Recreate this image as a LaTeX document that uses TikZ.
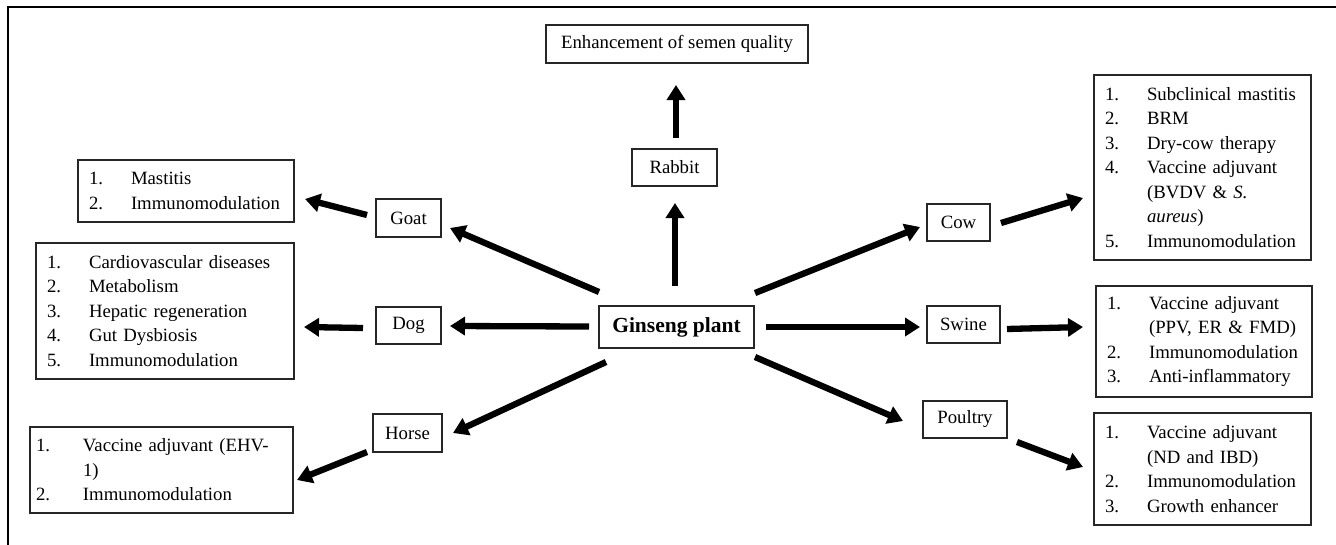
\documentclass[tikz,border=0pt]{standalone}
\usepackage{fontspec}
\setmainfont{Liberation Serif}
\usetikzlibrary{arrows.meta,calc}
\newcommand{\li}[2]{\makebox[42pt][l]{#1}\mbox{#2}}
\newcommand{\lc}[1]{\makebox[42pt][l]{}\mbox{#1}}
\begin{document}
\begin{tikzpicture}[x=1pt,y=-1pt,
  box/.style={draw=black!85,line width=1.3pt,inner sep=0pt,font=\fontsize{18.75}{24.5}\selectfont},
  listbox/.style={box,align=left,inner xsep=11pt,inner ysep=0pt},
  arr/.style={line width=6.3pt,-{Triangle[length=15pt,width=18pt]}}]
\useasboundingbox (0,0) rectangle (1336,544);
\draw[line width=1.5pt] (8,560) -- (8,7) -- (1350,7);
% centre and animals
\node[box,minimum width=155pt,minimum height=42pt,font=\fontsize{21.5}{24}\selectfont\bfseries] (ginseng) at (676.5,327) {Ginseng plant};
\node[box,minimum width=262pt,minimum height=38pt] (enh) at (677,44) {Enhancement of semen quality};
\node[box,minimum width=85pt,minimum height=37pt] (rabbit) at (674.5,167.5) {Rabbit};
\node[box,minimum width=65pt,minimum height=38pt] (goat) at (408.5,218) {Goat};
\node[box,minimum width=65pt,minimum height=37pt] (dog) at (408.5,325.5) {Dog};
\node[box,minimum width=69pt,minimum height=38pt] (horse) at (407.5,433) {Horse};
\node[box,minimum width=63pt,minimum height=37pt] (cow) at (958.5,222.5) {Cow};
\node[box,minimum width=73pt,minimum height=37pt] (swine) at (963.5,324.5) {Swine};
\node[box,minimum width=84pt,minimum height=37pt] (poultry) at (965,419.5) {Poultry};
% lists
\node[listbox,text width=194pt,minimum height=62pt] (goatlist) at (186,191)
  {\li{1.}{Mastitis}\\\li{2.}{Immunomodulation}};
\node[listbox,text width=236pt,minimum height=136pt] (doglist) at (165,311)
  {\li{1.}{Cardiovascular diseases}\\\li{2.}{Metabolism}\\\li{3.}{Hepatic regeneration}\\\li{4.}{Gut Dysbiosis}\\\li{5.}{Immunomodulation}};
\node[listbox,inner xsep=6pt,text width=251pt,minimum height=86pt] (horselist) at (161.5,470)
  {\makebox[47pt][l]{1.}\mbox{Vaccine adjuvant (EHV-}\\\makebox[47pt][l]{}\mbox{1)}\\\makebox[47pt][l]{2.}\mbox{Immunomodulation}};
\node[listbox,text width=195pt,minimum height=185pt] (cowlist) at (1202.5,167.5)
  {\li{1.}{Subclinical mastitis}\\\li{2.}{BRM}\\\li{3.}{Dry-cow therapy}\\\li{4.}{Vaccine adjuvant}\\\lc{(BVDV \& \textit{S.}}\\\lc{\textit{aureus})}\\\li{5.}{Immunomodulation}};
\node[listbox,text width=194pt,minimum height=111pt] (swinelist) at (1204,341.5)
  {\li{1.}{Vaccine adjuvant}\\\lc{(PPV, ER \& FMD)}\\\li{2.}{Immunomodulation}\\\li{3.}{Anti-inflammatory}};
\node[listbox,text width=195pt,minimum height=112pt] (poultrylist) at (1202.5,469)
  {\li{1.}{Vaccine adjuvant}\\\lc{(ND and IBD)}\\\li{2.}{Immunomodulation}\\\li{3.}{Growth enhancer}};
% connectors
\draw[arr] ($(ginseng)+(-1.5,-41)$) -- ($(rabbit)+(0.5,35.5)$);
\draw[arr] ($(rabbit)+(1.5,-29.5)$) -- ($(enh)+(-1,41)$);
\draw[arr] ($(ginseng)+(-77.5,-35)$) -- ($(goat)+(41.5,10)$);
\draw[arr] ($(ginseng)+(-87.5,-0.5)$) -- ($(dog)+(41.5,0.5)$);
\draw[arr] ($(ginseng)+(-70.5,35)$) -- ($(horse)+(45.5,0)$);
\draw[arr] ($(ginseng)+(78.5,-34)$) -- ($(cow)+(-38.5,4.5)$);
\draw[arr] ($(ginseng)+(89.5,0)$) -- ($(swine)+(-43.5,2.5)$);
\draw[arr] ($(ginseng)+(78.5,30)$) -- ($(poultry)+(-62,1.5)$);
\draw[arr] ($(goat)+(-41.5,-3)$) -- ($(goatlist)+(119,8)$);
\draw[arr] ($(dog)+(-45.5,2.5)$) -- ($(doglist)+(139,16)$);
\draw[arr] ($(horse)+(-40.5,19)$) -- ($(horselist)+(135.5,10)$);
\draw[arr] ($(cow)+(42.5,0.5)$) -- ($(cowlist)+(-119.5,30.5)$);
\draw[arr] ($(swine)+(43.5,4.5)$) -- ($(swinelist)+(-121,-14.5)$);
\draw[arr] ($(poultry)+(52,22.5)$) -- ($(poultrylist)+(-119.5,-2)$);
\end{tikzpicture}
\end{document}
